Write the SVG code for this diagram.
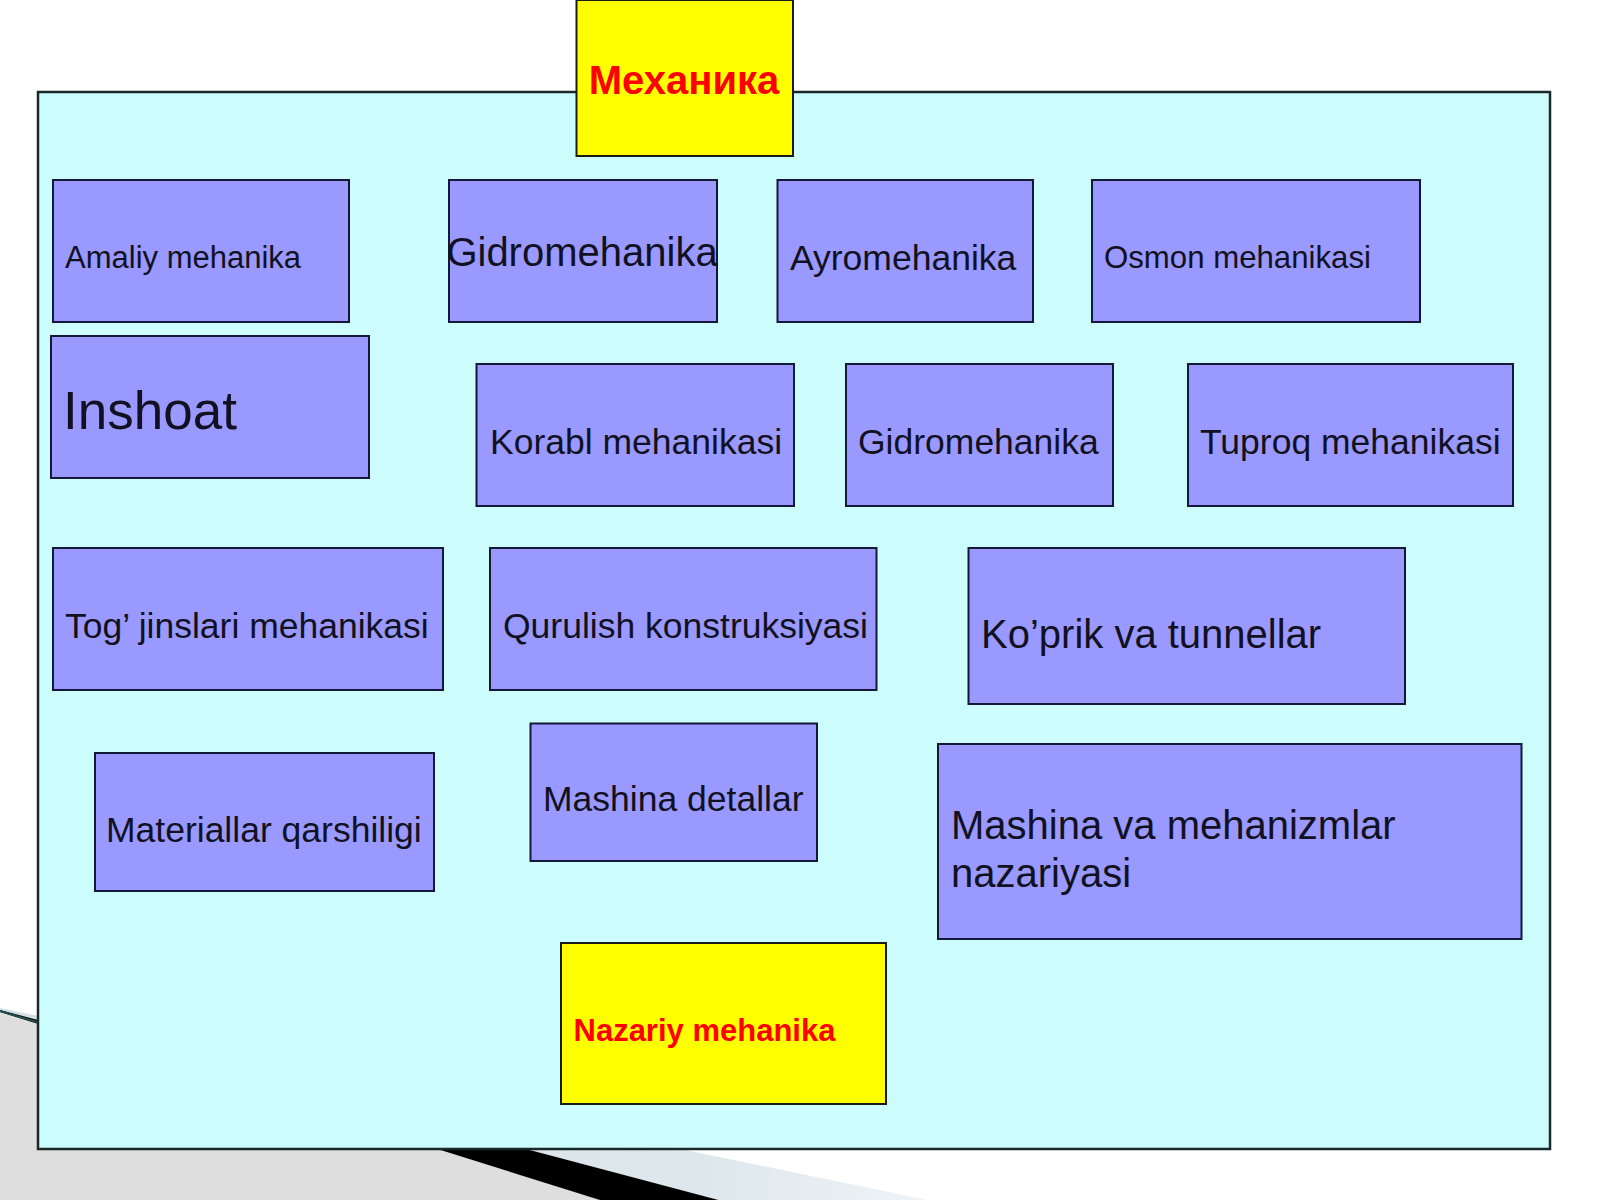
<svg xmlns="http://www.w3.org/2000/svg" width="1600" height="1200" viewBox="0 0 1600 1200">
<defs>
<style>
.box{fill:#9999ff;stroke:#141838;stroke-width:2}
.ybox{fill:#ffff00;stroke:#1a1a1a;stroke-width:2}
.t{font-family:"Liberation Sans",Arial,sans-serif;fill:#111122}
.r{font-family:"Liberation Sans",Arial,sans-serif;fill:#ff0000;font-weight:bold}
</style>
<linearGradient id="lb" x1="0" y1="0" x2="1" y2="0">
<stop offset="0" stop-color="#d4dfe6"/>
<stop offset="0.7" stop-color="#dde7ec"/>
<stop offset="1" stop-color="#f4f8fa"/>
</linearGradient>
</defs>
<rect width="1600" height="1200" fill="#ffffff"/>
<g id="decoration">
<polygon points="0,1008 1000,1215 0,1215" fill="url(#lb)"/>
<polygon points="0,1010 760,1211 0,1211" fill="#000000"/>
<polygon points="0,1012 600,1200 0,1200" fill="#dededf"/>
<line x1="0" y1="1011" x2="40" y2="1023" stroke="#1f4f4f" stroke-width="2"/>
</g>
<g id="panel">
<rect x="38" y="92" width="1512" height="1057" fill="#ccfcfc" stroke="#1a2828" stroke-width="2.5"/>
</g>
<g id="connectors"></g>
<g id="mexanika">
<rect class="ybox" x="576.5" y="0" width="216.5" height="156"/>
<text class="r" x="684" y="94" font-size="40" text-anchor="middle">Механика</text>
</g>
<g id="amaliy">
<rect class="box" x="53" y="180" width="296" height="142"/>
<text class="t" x="65" y="268" font-size="31">Amaliy mehanika</text>
</g>
<g id="gidro1">
<rect class="box" x="449" y="180" width="268" height="142"/>
<text class="t" x="582" y="266" font-size="40" text-anchor="middle">Gidromehanika</text>
</g>
<g id="ayro">
<rect class="box" x="777.5" y="180" width="255.5" height="142"/>
<text class="t" x="790" y="270" font-size="35.5">Ayromehanika</text>
</g>
<g id="osmon">
<rect class="box" x="1092" y="180" width="328" height="142"/>
<text class="t" x="1104" y="268" font-size="31.2">Osmon mehanikasi</text>
</g>
<g id="inshoat">
<rect class="box" x="51" y="336" width="318" height="142"/>
<text class="t" x="63" y="429" font-size="53">Inshoat</text>
</g>
<g id="korabl">
<rect class="box" x="476.5" y="364" width="317.5" height="142"/>
<text class="t" x="490" y="454" font-size="35.5">Korabl mehanikasi</text>
</g>
<g id="gidro2">
<rect class="box" x="846" y="364" width="267" height="142"/>
<text class="t" x="858" y="454" font-size="35.5">Gidromehanika</text>
</g>
<g id="tuproq">
<rect class="box" x="1188" y="364" width="325" height="142"/>
<text class="t" x="1200" y="454" font-size="35.5">Tuproq mehanikasi</text>
</g>
<g id="togjinslari">
<rect class="box" x="53" y="548" width="390" height="142"/>
<text class="t" x="65" y="638" font-size="35.5">Tog’ jinslari mehanikasi</text>
</g>
<g id="qurulish">
<rect class="box" x="490" y="548" width="386.5" height="142"/>
<text class="t" x="503" y="638" font-size="35.5">Qurulish konstruksiyasi</text>
</g>
<g id="koprik">
<rect class="box" x="968.5" y="548" width="436.5" height="156"/>
<text class="t" x="981" y="648" font-size="40">Ko’prik va tunnellar</text>
</g>
<g id="materiallar">
<rect class="box" x="95" y="753" width="339" height="138"/>
<text class="t" x="106" y="842" font-size="35.5">Materiallar qarshiligi</text>
</g>
<g id="mashinadet">
<rect class="box" x="530.5" y="723.5" width="286.5" height="137.5"/>
<text class="t" x="543" y="811" font-size="35.5">Mashina detallar</text>
</g>
<g id="mashinava">
<rect class="box" x="938" y="744" width="583.5" height="195"/>
<text class="t" x="951" y="839" font-size="40">Mashina va mehanizmlar</text>
<text class="t" x="951" y="887" font-size="40">nazariyasi</text>
</g>
<g id="nazariy">
<rect class="ybox" x="561" y="943" width="325" height="161"/>
<text class="r" x="573.5" y="1041" font-size="31">Nazariy mehanika</text>
</g>
</svg>
